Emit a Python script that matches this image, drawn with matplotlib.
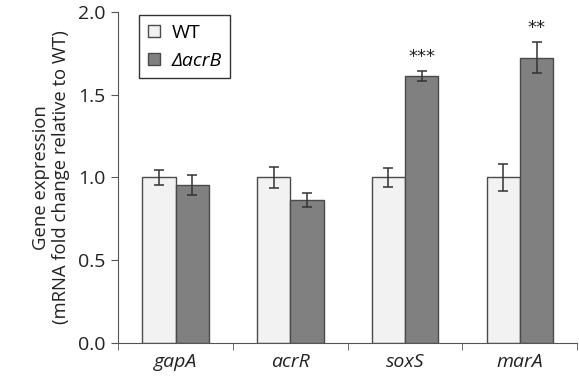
import numpy as np
import matplotlib
matplotlib.use('Agg')
import matplotlib.pyplot as plt

plt.rcParams['font.family'] = ['Open Sans', 'DejaVu Sans']

genes = ['gapA', 'acrR', 'soxS', 'marA']
wt_vals = [1.0, 1.0, 1.0, 1.0]
wt_err = [0.045, 0.065, 0.058, 0.082]
ko_vals = [0.955, 0.862, 1.612, 1.725]
ko_err = [0.062, 0.042, 0.03, 0.094]
stars = ['', '', '***', '**']

fig = plt.figure(figsize=(5.79, 3.76), dpi=100)
ax = fig.add_axes([0.204, 0.088, 0.793, 0.88])

x = np.arange(len(genes))
w = 0.29
edge = '#4a4a4a'
ekw = dict(ecolor='#333333', elinewidth=1.1, capsize=3.5, capthick=1.1)
b1 = ax.bar(x - w/2, wt_vals, w, yerr=wt_err, color='#f2f2f2', edgecolor=edge,
            linewidth=1.0, error_kw=ekw, label='WT')
b2 = ax.bar(x + w/2, ko_vals, w, yerr=ko_err, color='#808080', edgecolor=edge,
            linewidth=1.0, error_kw=ekw, label='\u0394acrB')

for i, s in enumerate(stars):
    if s:
        ax.text(x[i] + w/2, ko_vals[i] + ko_err[i] + 0.03, s, ha='center',
                va='bottom', fontsize=13, color='#222222', family='DejaVu Sans')

ax.set_xlim(-0.5, 3.5)
ax.set_ylim(0, 2.0)
ax.set_yticks([0.0, 0.5, 1.0, 1.5, 2.0])
ax.set_yticklabels(['0.0', '0.5', '1.0', '1.5', '2.0'])
ax.set_xticks(x)
ax.set_xticklabels(genes, fontstyle='italic')
ax.set_xticks(np.arange(-0.5, 3.6, 1.0), minor=True)
ax.tick_params(axis='x', which='major', length=0, labelsize=14, pad=7, colors='#222222')
ax.tick_params(axis='x', which='minor', length=5, direction='out', color='#555555')
ax.tick_params(axis='y', length=5, direction='out', labelsize=14, color='#555555',
               labelcolor='#222222', pad=4)

ax.spines['top'].set_visible(False)
ax.spines['right'].set_visible(False)
for sp in ['left', 'bottom']:
    ax.spines[sp].set_color('#555555')

ax.set_ylabel('Gene expression\n(mRNA fold change relative to WT)', fontsize=13.3,
              color='#222222', labelpad=6, linespacing=1.1)

leg = ax.legend(loc='upper left', bbox_to_anchor=(0.025, 1.02), fontsize=14,
                handlelength=0.6, handleheight=0.6, handletextpad=0.6,
                fancybox=False, edgecolor='#333333', framealpha=1, borderpad=0.45,
                labelspacing=0.5)
leg.get_frame().set_linewidth(1.0)
leg.get_texts()[1].set_fontstyle('italic')

fig.savefig('out.png', dpi=100)
